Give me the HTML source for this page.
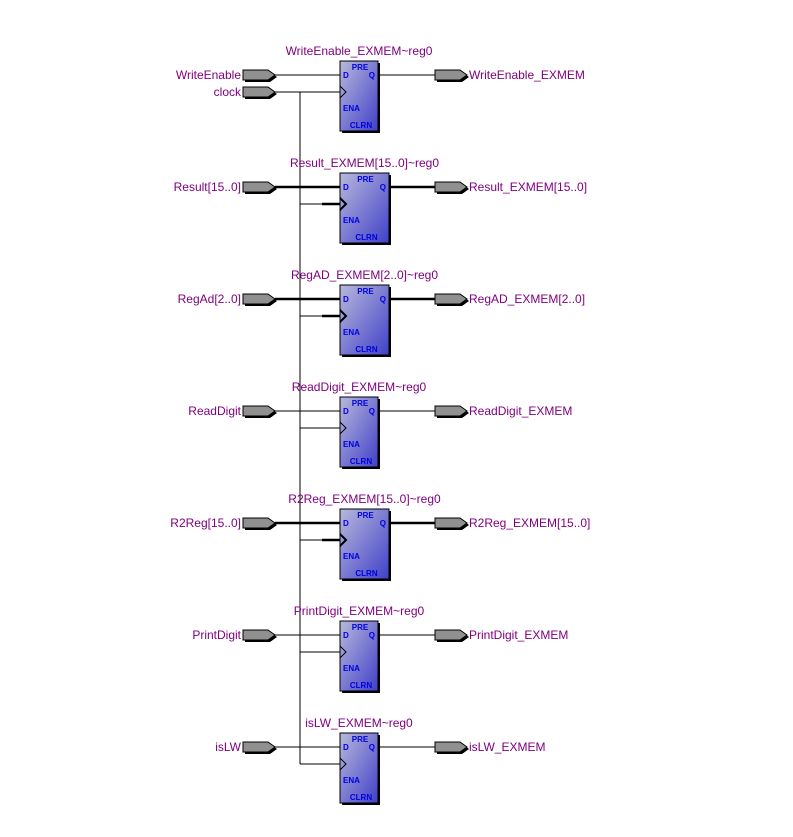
<!DOCTYPE html>
<html><head><style>
body{margin:0;background:#fff}
svg{display:block}
text{font-family:"Liberation Sans",sans-serif}
.l{font-size:12px;fill:#800080}
.p{font-size:8px;font-weight:bold;fill:#0000e0}
</style></head><body>
<svg width="793" height="837" viewBox="0 0 793 837">
<defs>
<linearGradient id="g" x1="0" y1="0" x2="1" y2="1">
<stop offset="0" stop-color="#b8b8dc"/><stop offset="1" stop-color="#4040c8"/>
</linearGradient>
</defs>
<line x1="300" y1="92" x2="300" y2="764" stroke="#000" stroke-width="1"/>
<g id="rows"></g>
</svg>
<script>
const rows=[
["WriteEnable","WriteEnable_EXMEM~reg0","WriteEnable_EXMEM",0],
["Result[15..0]","Result_EXMEM[15..0]~reg0","Result_EXMEM[15..0]",1],
["RegAd[2..0]","RegAD_EXMEM[2..0]~reg0","RegAD_EXMEM[2..0]",1],
["ReadDigit","ReadDigit_EXMEM~reg0","ReadDigit_EXMEM",0],
["R2Reg[15..0]","R2Reg_EXMEM[15..0]~reg0","R2Reg_EXMEM[15..0]",1],
["PrintDigit","PrintDigit_EXMEM~reg0","PrintDigit_EXMEM",0],
["isLW","isLW_EXMEM~reg0","isLW_EXMEM",0]];
let s="";
function pin(x,y){return `<polygon points="${x+2},${y-3} ${x+27},${y-3} ${x+34},${y+2} ${x+27},${y+7} ${x+2},${y+7}" fill="#000"/><polygon points="${x},${y-5} ${x+25},${y-5} ${x+32},${y} ${x+25},${y+5} ${x},${y+5}" fill="#909090" stroke="#000" stroke-width="1"/>`;}
rows.forEach((r,i)=>{
const y=75+112*i,bus=r[3],w=bus?49:38,bx=340,sw=bus?2.5:1,top=y-14,cy=y+17;
s+=pin(243,y)+pin(435,y);
s+=`<text class="l" x="241" y="${y+4}" text-anchor="end">${r[0]}</text>`;
s+=`<text class="l" x="469" y="${y+4}">${r[2]}</text>`;
s+=`<text class="l" x="${bx+w/2}" y="${top-6}" text-anchor="middle">${r[1]}</text>`;
s+=`<line x1="275" y1="${y}" x2="${bx}" y2="${y}" stroke="#000" stroke-width="${sw}"/>`;
s+=`<line x1="${bx+w}" y1="${y}" x2="435" y2="${y}" stroke="#000" stroke-width="${sw}"/>`;
if(i==0){ s+=pin(243,cy)+`<text class="l" x="241" y="${cy+4}" text-anchor="end">clock</text><line x1="275" y1="${cy}" x2="${bx}" y2="${cy}" stroke="#000"/>`;}
else if(bus) s+=`<line x1="300" y1="${cy}" x2="${bx}" y2="${cy}" stroke="#000"/><line x1="322" y1="${cy}" x2="${bx}" y2="${cy}" stroke="#000" stroke-width="2.5"/>`;
else s+=`<line x1="300" y1="${cy}" x2="${bx}" y2="${cy}" stroke="#000"/>`;
s+=`<rect x="${bx+2}" y="${top+2}" width="${w}" height="70" fill="#000"/>`;
s+=`<rect x="${bx}" y="${top}" width="${w}" height="70" fill="url(#g)" stroke="#000" stroke-width="1"/>`;
s+=`<polyline points="${bx},${cy-6} ${bx+6},${cy} ${bx},${cy+6}" fill="none" stroke="#000" stroke-width="${bus?2:1}"/>`;
s+=`<text class="p" x="${bx+w/2+1}" y="${top+9}" text-anchor="middle">PRE</text>`;
s+=`<text class="p" x="${bx+3}" y="${y+3}">D</text>`;
s+=`<text class="p" x="${bx+w-3}" y="${y+3}" text-anchor="end">Q</text>`;
s+=`<text class="p" x="${bx+3}" y="${top+50}">ENA</text>`;
s+=`<text class="p" x="${bx+w/2+2}" y="${top+67}" text-anchor="middle">CLRN</text>`;
});
document.getElementById("rows").innerHTML=s;
</script>
</body></html>
